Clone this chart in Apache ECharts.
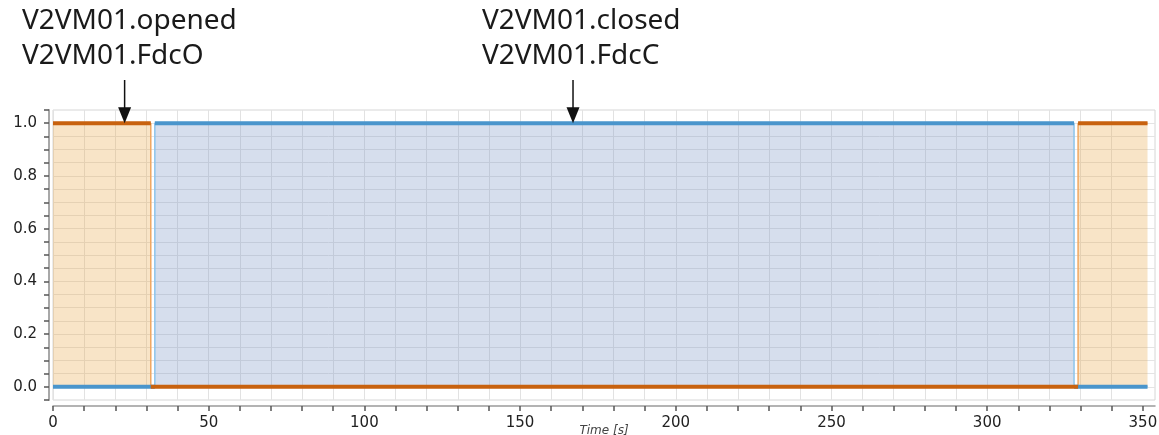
<!DOCTYPE html>
<html>
<head>
<meta charset="utf-8">
<script src="https://cdn.jsdelivr.net/npm/echarts@6/dist/echarts.min.js"></script>
<style>
  html, body { margin: 0; padding: 0; background: #fff; }
  #chart { width: 1159px; height: 435px; }
</style>
</head>
<body>
<div id="chart"></div>
<script>
// Valve V2VM01 limit-switch signals over time (s)
const openedEdges = [0, 31.4, 329.2, 351.5];   // switching instants of V2VM01.opened / FdcO
const openedLevels = [1, 0, 1];
const closedEdges = [0, 32.7, 327.9, 351.5];   // switching instants of V2VM01.closed / FdcC
const closedLevels = [0, 1, 0];

const xTickValues = [0, 10, 20, 30, 40, 50, 60, 70, 80, 90, 100, 110, 120, 130, 140, 150, 160, 170,
  180, 190, 200, 210, 220, 230, 240, 250, 260, 270, 280, 290, 300, 310, 320, 330, 340, 350];
const xTickLabels = [0, 50, 100, 150, 200, 250, 300, 350];
const yTickLabels = [0, 0.2, 0.4, 0.6, 0.8, 1.0];

// Annotated signals: label lines and the time the arrow points at
const annotations = [
  { lines: ['V2VM01.opened', 'V2VM01.FdcO'], t: 23, level: 1, textLeft: 22 },
  { lines: ['V2VM01.closed', 'V2VM01.FdcC'], t: 167, level: 1, textLeft: 482 }
];

// Step outline (with vertical edges) for the filled areas
function stepPoints(edges, levels) {
  const pts = [];
  for (let i = 0; i < levels.length; i++) {
    pts.push([edges[i], levels[i]]);
    pts.push([edges[i + 1], levels[i]]);
  }
  return pts;
}
// Horizontal segments only, broken at each switch
function levelSegments(edges, levels) {
  const pts = [];
  for (let i = 0; i < levels.length; i++) {
    pts.push([edges[i], levels[i]]);
    pts.push([edges[i + 1], levels[i]]);
    if (i < levels.length - 1) pts.push([edges[i + 1], '-']);
  }
  return pts;
}

const chart = echarts.init(document.getElementById('chart'), null, { renderer: 'canvas' });

const axisFont = { fontFamily: 'DejaVu Sans', fontSize: 15, color: '#222' };

chart.setOption({
  animation: false,
  backgroundColor: '#fff',
  grid: {
    left: 53, right: 4, top: 110, bottom: 35,
    outerBoundsMode: 'none', containLabel: false,
    show: true, borderColor: '#d6d6d6', borderWidth: 1, backgroundColor: 'transparent'
  },
  xAxis: {
    type: 'value',
    min: 0, max: 353.9, interval: 10,
    offset: 6,
    name: 'Time [s]',
    nameLocation: 'middle',
    nameGap: 19,
    nameMoveOverlap: false,
    nameTextStyle: { fontFamily: 'DejaVu Sans', fontStyle: 'italic', fontSize: 12, color: '#444' },
    axisLine: { show: true, onZero: false, lineStyle: { color: '#9a9a9a', width: 1.5 } },
    axisTick: { show: true, length: 5, customValues: xTickValues, lineStyle: { color: '#555', width: 1.5 } },
    axisLabel: { customValues: xTickLabels, margin: 10, ...axisFont, formatter: v => String(Math.round(v)) },
    splitLine: { show: true, showMaxLine: false, lineStyle: { color: '#e2e2e2', width: 1 } }
  },
  yAxis: {
    type: 'value',
    min: -0.05, max: 1.05, interval: 0.05,
    offset: 4,
    axisLine: { show: true, onZero: false, lineStyle: { color: '#a8a8a8', width: 2 } },
    axisTick: { show: true, length: 5, lineStyle: { color: '#555', width: 1.5 } },
    axisLabel: { customValues: yTickLabels, margin: 12, ...axisFont, formatter: v => v.toFixed(1) },
    splitLine: { show: true, showMinLine: false, showMaxLine: false, lineStyle: { color: '#e4e4e4', width: 1 } }
  },
  series: [
    {
      name: 'V2VM01.opened area', type: 'line', z: 2,
      data: stepPoints(openedEdges, openedLevels),
      symbol: 'none', silent: true,
      lineStyle: { color: '#f0a862', width: 1.5 },
      areaStyle: { color: 'rgba(234,170,80,0.45)', origin: 'auto' }
    },
    {
      name: 'V2VM01.closed area', type: 'line', z: 2,
      data: stepPoints(closedEdges, closedLevels),
      symbol: 'none', silent: true,
      lineStyle: { color: '#8cc4ec', width: 1.5 },
      areaStyle: { color: 'rgba(125,150,198,0.45)', origin: 'auto' }
    },
    {
      name: 'V2VM01.closed', type: 'line', z: 3,
      data: levelSegments(closedEdges, closedLevels),
      symbol: 'none', connectNulls: false,
      lineStyle: { color: '#4a95cc', width: 4, cap: 'butt' }
    },
    {
      name: 'V2VM01.opened', type: 'line', z: 4,
      data: levelSegments(openedEdges, openedLevels),
      symbol: 'none', connectNulls: false,
      lineStyle: { color: '#c8620f', width: 4, cap: 'butt' }
    }
  ]
});

// Signal-name labels with arrows pointing at their traces
const graphics = [];
annotations.forEach(a => {
  const [px, py] = chart.convertToPixel({ gridIndex: 0 }, [a.t, a.level]);
  graphics.push({
    type: 'text', left: a.textLeft, top: 4, z: 10,
    style: {
      text: a.lines.join('\n'), fill: '#1a1a1a',
      font: '28px "Noto Sans"', lineHeight: 35
    }
  });
  graphics.push({
    type: 'line', z: 10,
    shape: { x1: px, y1: 80, x2: px, y2: py - 12 },
    style: { stroke: '#111', lineWidth: 1.5 }
  });
  graphics.push({
    type: 'polygon', z: 10,
    shape: { points: [[px - 6.5, py - 16], [px + 6.5, py - 16], [px, py]] },
    style: { fill: '#111' }
  });
});
chart.setOption({ graphic: graphics });
</script>
</body>
</html>
